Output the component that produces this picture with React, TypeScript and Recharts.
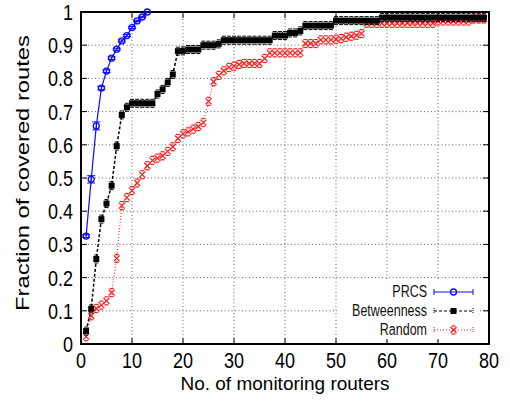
import { LineChart, Line, XAxis, YAxis, CartesianGrid, ReferenceArea, ErrorBar } from "recharts";

// fraction of covered routes per number of monitoring routers (x = 1, 2, 3, ...)
const prcs = [0.325, 0.496, 0.657, 0.771, 0.822, 0.861, 0.888, 0.913, 0.929, 0.953, 0.973, 0.985, 1.0];
const prcsErr = [0.004, 0.011, 0.012, 0.005, 0.004, 0.004, 0.003, 0.003, 0.003, 0.003, 0.002, 0.002, 0];
const betweenness = [
  0.039, 0.106, 0.256, 0.376, 0.423, 0.477, 0.596, 0.69, 0.713, 0.725,
  0.725, 0.725, 0.725, 0.725, 0.753, 0.767, 0.788, 0.812, 0.882, 0.883,
  0.887, 0.887, 0.887, 0.9, 0.9, 0.9, 0.904, 0.915, 0.915, 0.915,
  0.915, 0.915, 0.915, 0.915, 0.915, 0.915, 0.915, 0.929, 0.929, 0.929,
  0.937, 0.937, 0.943, 0.959, 0.959, 0.959, 0.959, 0.959, 0.959, 0.974,
  0.974, 0.974, 0.974, 0.974, 0.974, 0.974, 0.974, 0.974, 0.983, 0.983,
  0.983, 0.983, 0.983, 0.983, 0.983, 0.983, 0.983, 0.983, 0.983, 0.983,
  0.983, 0.983, 0.983, 0.983, 0.983, 0.983, 0.983, 0.983, 0.983,
];
const random = [
  0.022, 0.085, 0.107, 0.117, 0.13, 0.155, 0.258, 0.417, 0.441, 0.462,
  0.485, 0.51, 0.537, 0.553, 0.56, 0.567, 0.58, 0.594, 0.619, 0.633,
  0.639, 0.647, 0.655, 0.667, 0.731, 0.79, 0.809, 0.823, 0.833, 0.837,
  0.842, 0.845, 0.845, 0.845, 0.845, 0.86, 0.877, 0.877, 0.877, 0.877,
  0.877, 0.877, 0.877, 0.905, 0.905, 0.905, 0.916, 0.916, 0.916, 0.918,
  0.92, 0.924, 0.927, 0.93, 0.935, 0.966, 0.966, 0.966, 0.966, 0.966,
  0.966, 0.966, 0.966, 0.966, 0.966, 0.966, 0.966, 0.966, 0.966, 0.973,
  0.973, 0.973, 0.973, 0.973, 0.973, 0.973, 0.979, 0.979, 0.979,
];
const xTicks = [0, 10, 20, 30, 40, 50, 60, 70, 80];
const yTicks = [0, 0.1, 0.2, 0.3, 0.4, 0.5, 0.6, 0.7, 0.8, 0.9, 1];

const data = betweenness.map((b, i) => ({
  x: i + 1,
  prcs: prcs[i],
  prcsErr: prcsErr[i],
  betweenness: b,
  random: random[i],
}));

const FONT = "'Liberation Sans', Arial, Helvetica, sans-serif";
const W = 510;
const H = 401;
const TOP = 12;
const BOTTOM = 344;
const LEFT = 81;
const RIGHT = 489;
// the original figure is stretched a bit vertically, text included
const STRETCH = 1.25;

const BLUE = "#0a0aff";
const RED = "#ff1a1a";

function XTick(props: any) {
  const { x, payload } = props;
  return (
    <g>
      <line x1={x} x2={x} y1={BOTTOM} y2={BOTTOM - 6} stroke="#000" />
      <line x1={x} x2={x} y1={TOP} y2={TOP + 6} stroke="#000" />
      <text
        transform={`translate(${x},368) scale(1,${STRETCH})`}
        textAnchor="middle"
        fontSize={18}
        fontFamily={FONT}
        fill="#000"
      >
        {payload.value}
      </text>
    </g>
  );
}

function YTick(props: any) {
  const { y, payload } = props;
  const v = payload.value;
  const label = v === 0 || v === 1 ? String(v) : v.toFixed(1);
  return (
    <g>
      <line x1={LEFT} x2={LEFT + 6} y1={y} y2={y} stroke="#000" />
      <line x1={RIGHT} x2={RIGHT - 6} y1={y} y2={y} stroke="#000" />
      <text
        transform={`translate(73,${y + 8}) scale(1,${STRETCH})`}
        textAnchor="end"
        fontSize={18}
        fontFamily={FONT}
        fill="#000"
      >
        {label}
      </text>
    </g>
  );
}

function CircleDot(props: any) {
  const { cx, cy } = props;
  if (cx == null || cy == null || Number.isNaN(cy)) return <g />;
  return <circle cx={cx} cy={cy} r={3} fill="none" stroke={BLUE} strokeWidth={1.3} />;
}

function SquareDot(props: any) {
  const { cx, cy } = props;
  if (cx == null || cy == null) return <g />;
  return (
    <g>
      <rect x={cx - 3} y={cy - 3} width={6} height={6} fill="#000" />
      <line x1={cx - 2} x2={cx + 2} y1={cy - 4} y2={cy - 4} stroke="#000" />
      <line x1={cx - 2} x2={cx + 2} y1={cy + 4} y2={cy + 4} stroke="#000" />
    </g>
  );
}

function CrossDot(props: any) {
  const { cx, cy } = props;
  if (cx == null || cy == null) return <g />;
  return (
    <g stroke={RED} strokeWidth={1.2}>
      <line x1={cx - 3} x2={cx + 3} y1={cy - 3} y2={cy + 3} />
      <line x1={cx - 3} x2={cx + 3} y1={cy + 3} y2={cy - 3} />
      <line x1={cx - 2} x2={cx + 2} y1={cy - 4} y2={cy - 4} />
      <line x1={cx - 2} x2={cx + 2} y1={cy + 4} y2={cy + 4} />
    </g>
  );
}

function LegendBox() {
  const rows = [
    { name: "PRCS", y: 292, color: BLUE, dash: undefined as string | undefined, kind: "circle" },
    { name: "Betweenness", y: 311, color: "#000", dash: "3 2", kind: "square" },
    { name: "Random", y: 330, color: RED, dash: "1 2", kind: "cross" },
  ];
  return (
    <svg width={W} height={H} style={{ position: "absolute", left: 0, top: 0, pointerEvents: "none" }}>
      <rect x={337} y={279} width={141} height={60} fill="#fff" />
      {rows.map((r) => (
        <g key={r.name}>
          <text
            transform={`translate(427,${r.y + 5}) scale(1,${STRETCH})`}
            textAnchor="end"
            fontSize={12.5}
            fontFamily={FONT}
            fill="#111"
          >
            {r.name}
          </text>
          <line x1={434} x2={473} y1={r.y} y2={r.y} stroke={r.color} strokeDasharray={r.dash} strokeWidth={1.2} />
          <line x1={434} x2={434} y1={r.y - 3} y2={r.y + 3} stroke={r.color} strokeDasharray={r.dash ? "1 1" : undefined} />
          <line x1={473} x2={473} y1={r.y - 3} y2={r.y + 3} stroke={r.color} strokeDasharray={r.dash ? "1 1" : undefined} />
          {r.kind === "circle" && <CircleDot cx={453.5} cy={r.y} />}
          {r.kind === "square" && <rect x={450.5} y={r.y - 3} width={6} height={6} fill="#000" />}
          {r.kind === "cross" && <CrossDot cx={453.5} cy={r.y} />}
        </g>
      ))}
    </svg>
  );
}

export default function App() {
  return (
    <div style={{ position: "absolute", left: 0, top: 0, width: W, height: H, background: "#fff" }}>
      <LineChart width={W} height={H} data={data} margin={{ top: TOP, right: W - RIGHT, bottom: 0, left: 0 }}>
        <CartesianGrid stroke="#666" strokeDasharray="1 2.5" />
        <XAxis
          type="number"
          dataKey="x"
          domain={[0, 80]}
          ticks={xTicks}
          interval={0}
          height={H - BOTTOM}
          axisLine={false}
          tickLine={false}
          tick={<XTick />}
          label={{
            content: () => (
              <text x={285} y={390} textAnchor="middle" fontSize={19} fontFamily={FONT} fill="#000">
                No. of monitoring routers
              </text>
            ),
          }}
        />
        <YAxis
          type="number"
          domain={[0, 1]}
          ticks={yTicks}
          interval={0}
          width={LEFT}
          axisLine={false}
          tickLine={false}
          tick={<YTick />}
          label={{
            content: () => (
              <text
                transform={`translate(29,173) rotate(-90) scale(${STRETCH},1)`}
                textAnchor="middle"
                fontSize={19}
                fontFamily={FONT}
                fill="#000"
              >
                Fraction of covered routes
              </text>
            ),
          }}
        />
        <Line
          dataKey="random"
          stroke={RED}
          strokeWidth={1}
          strokeDasharray="1 2"
          dot={<CrossDot />}
          isAnimationActive={false}
        />
        <Line
          dataKey="betweenness"
          stroke="#000"
          strokeWidth={1.5}
          strokeDasharray="3 2"
          dot={<SquareDot />}
          isAnimationActive={false}
        />
        <Line dataKey="prcs" stroke={BLUE} strokeWidth={1.2} dot={<CircleDot />} isAnimationActive={false}>
          <ErrorBar dataKey="prcsErr" direction="y" width={4} stroke={BLUE} strokeWidth={1} />
        </Line>
        <ReferenceArea x1={0} x2={80} y1={0} y2={1} fill="none" stroke="#000" strokeWidth={2} ifOverflow="visible" />
      </LineChart>
      <LegendBox />
    </div>
  );
}
